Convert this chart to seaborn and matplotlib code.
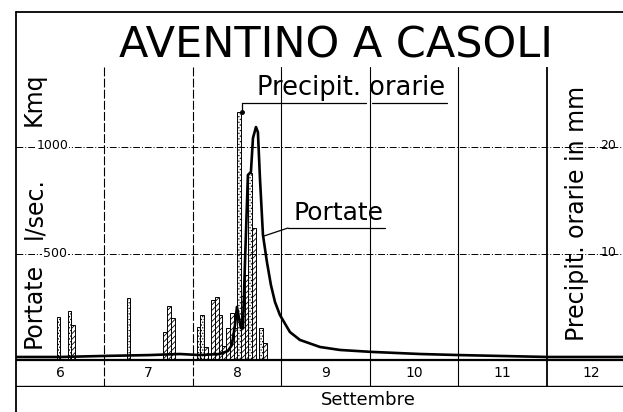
import numpy as np
import pandas as pd
import matplotlib
matplotlib.use("Agg")
import matplotlib.pyplot as plt
from matplotlib.lines import Line2D
import seaborn as sns

# ---------------- data ----------------
# discharge (Portate, l/sec per Kmq): time in days of September, value
q_day = [6.00, 6.50, 7.01, 7.51, 7.85, 8.08, 8.30, 8.395, 8.44, 8.475, 8.497, 8.52, 8.542,
         8.565, 8.588, 8.621, 8.655, 8.678, 8.712, 8.734, 8.757, 8.791, 8.836, 8.881, 8.927,
         8.983, 9.096, 9.209, 9.435, 9.661, 10.011, 10.565, 11.006, 12.011, 12.86]
q_val = [14, 14, 19, 23, 28, 23, 28, 42, 70, 164, 249, 197, 150,
         150, 460, 869, 883, 1042, 1094, 1070, 854, 587, 460, 352, 272,
         211, 131, 94, 61, 47, 38, 28, 23, 14, 14]

# hourly precipitation (mm), stippled series
pa_day = [6, 6, 7, 8, 8, 8, 8, 8]
pa_hour = [11, 14, 6, 1, 2, 12, 15, 18]
pa_mm = [4.0, 4.6, 5.8, 3.1, 4.2, 23.3, 17.6, 3.0]

# hourly precipitation (mm), hatched series
pb_day = [6, 7, 7, 7, 8, 8, 8, 8, 8, 8, 8, 8, 8, 8, 8, 8, 8]
pb_hour = [15, 16, 17, 18, 3, 5, 6, 7, 8, 9, 10, 11, 13, 14, 15, 16, 19]
pb_mm = [3.3, 2.6, 5.1, 3.9, 1.2, 5.6, 5.9, 4.2, 1.3, 3.0, 4.4, 3.0, 6.0, 8.0, 12.4, 12.4, 1.6]

day_labels = ["6", "7", "8", "9", "10", "11", "12"]
left_ticks = [500, 1000]
right_ticks = [10, 20]

# ---------------- figure ----------------
W, H = 623, 412
sns.set_style("white")
plt.rcParams["font.family"] = ["DejaVu Sans"]
plt.rcParams["text.color"] = "black"
plt.rcParams["hatch.linewidth"] = 0.6

fig = plt.figure(figsize=(W / 100, H / 100), dpi=100)
fig.patch.set_facecolor("white")

def fx(x):
    return x / W

def fy(y):
    return 1 - y / H

ax = fig.add_axes([fx(16), fy(387), fx(623) - fx(16), fy(67) - fy(387)])
ax2 = ax.twinx()
ax.set_zorder(2)
ax.patch.set_visible(False)
ax2.set_zorder(1)

ymin, ymax = -127, 1376

# precipitation bars
dfa = pd.DataFrame({"t": np.array(pa_day) + (np.array(pa_hour) + 0.5) / 24,
                    "mm": np.array(pa_mm, dtype=float)})
dfb = pd.DataFrame({"t": np.array(pb_day) + (np.array(pb_hour) + 0.5) / 24,
                    "mm": np.array(pb_mm, dtype=float)})

n0 = len(ax2.patches)
sns.histplot(data=dfb, x="t", weights="mm", binwidth=1 / 24, binrange=(6, 13), ax=ax2,
             fill=True, color="white", edgecolor="black", linewidth=0.7, alpha=1)
for p in ax2.patches[n0:]:
    p.set_hatch("//////")
    if p.get_height() <= 0:
        p.set_visible(False)
n1 = len(ax2.patches)
sns.histplot(data=dfa, x="t", weights="mm", binwidth=1 / 24, binrange=(6, 13), ax=ax2,
             fill=True, color="white", edgecolor="black", linewidth=0.7, alpha=1)
for p in ax2.patches[n1:]:
    p.set_hatch("......")
    if p.get_height() <= 0:
        p.set_visible(False)

# discharge curve
dfq = pd.DataFrame({"day": q_day, "q": q_val})
sns.lineplot(data=dfq, x="day", y="q", ax=ax, color="black", lw=1.9, zorder=5)

ax.set_xlim(6, 12.86)
ax.set_ylim(ymin, ymax)
ax2.set_ylim(ymin / 50, ymax / 50)
for a in (ax, ax2):
    for s in a.spines.values():
        s.set_visible(False)
    a.set_xticks([])
    a.set_yticks([])
    a.set_xlabel("")
    a.set_ylabel("")

# grid lines
for v in left_ticks:
    ax.axhline(v, color="black", lw=0.7, ls=(0, (7, 2, 1, 2)), zorder=1)
for d in range(7, 13):
    ls = (0, (8, 2)) if d in (7, 8) else "-"
    ax.axvline(d, color="black", lw=1.3 if d == 12 else 0.8, ls=ls, zorder=1)
ax.axhline(0, color="black", lw=1.6, zorder=3)
ax.axhline(ymin + 3, color="black", lw=1.0, zorder=3)

# day labels
for i, lab in enumerate(day_labels):
    ax.text(6 + i + 0.5, -63, lab, ha="center", va="center", fontsize=10)

# tick value labels (inside, on the grid lines)
wbox = dict(facecolor="white", edgecolor="none", pad=0.6)
ax.text(6.41, 1000 + 8, "1000", ha="center", va="center", fontsize=9, bbox=wbox, zorder=6)
ax.text(6.44, 500, "500", ha="center", va="center", fontsize=9, bbox=wbox, zorder=6)
for v in right_ticks:
    ax2.text(12.695, v + 0.1, str(v), ha="center", va="center", fontsize=9, bbox=wbox)

# outer frame
fig.add_artist(Line2D([fx(16), fx(16)], [0, fy(12)], color="black", lw=1.3))
fig.add_artist(Line2D([fx(16), 1], [fy(12), fy(12)], color="black", lw=1.3))

# title
fig.text(fx(336), fy(45), "AVENTINO A CASOLI", ha="center", va="center", fontsize=31)

# left axis label (pieces spaced like the reference)
for txt, yc in (("Portate", 305), ("l/sec.", 208), ("Kmq", 99)):
    fig.text(fx(34), fy(yc), txt, rotation=90, ha="center", va="center", fontsize=17)
# right axis label
fig.text(fx(577), fy(213), "Precipit. orarie in mm", rotation=90, ha="center",
         va="center", fontsize=17)

fig.text(fx(368), fy(400), "Settembre", ha="center", va="center", fontsize=13)

# annotations
fig.text(fx(351), fy(88), "Precipit. orarie", ha="center", va="center", fontsize=18.5)
fig.add_artist(Line2D([fx(242), fx(242)], [fy(112), fy(103)], color="black", lw=0.9))
fig.add_artist(Line2D([fx(242), fx(366)], [fy(103), fy(103)], color="black", lw=0.9))
fig.add_artist(Line2D([fx(372), fx(447)], [fy(103), fy(103)], color="black", lw=0.9))
fig.add_artist(Line2D([fx(242)], [fy(112)], marker="o", ms=2.5, color="black"))
fig.text(fx(338), fy(213), "Portate", ha="center", va="center", fontsize=18)
fig.add_artist(Line2D([fx(288), fx(385)], [fy(228), fy(228)], color="black", lw=0.9))
fig.add_artist(Line2D([fx(288), fx(264)], [fy(228), fy(236)], color="black", lw=0.9))

fig.savefig("out.png", dpi=100)
